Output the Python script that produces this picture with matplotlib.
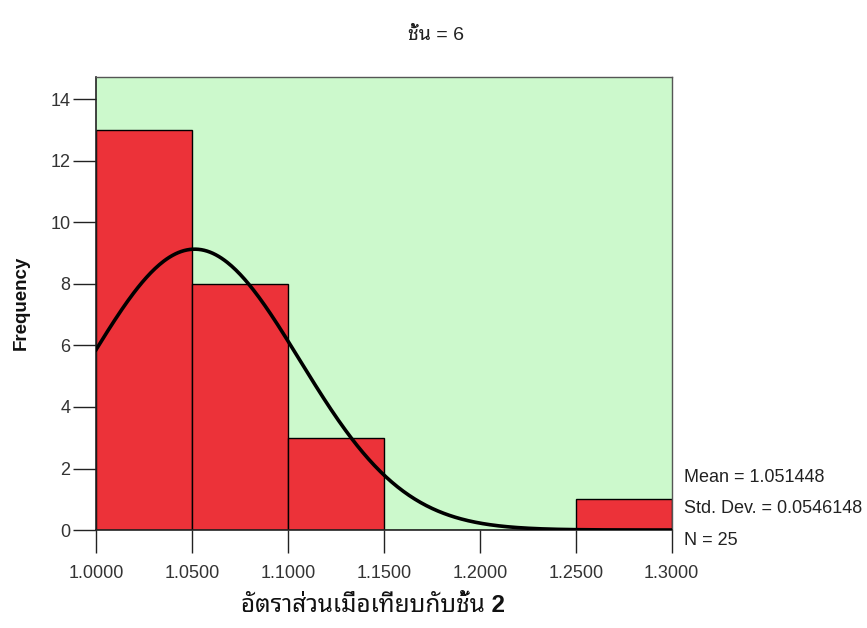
import numpy as np
import matplotlib
matplotlib.use("Agg")
import matplotlib.pyplot as plt

plt.rcParams['font.family'] = ['Liberation Sans', 'Noto Sans Thai Looped', 'DejaVu Sans']

# histogram bins (left edges) and counts
bin_left = [1.00, 1.05, 1.10, 1.15, 1.20, 1.25]
counts = [13, 8, 3, 0, 0, 1]
bin_width = 0.05

mean = 1.051448
std = 0.0546148
n = 25

fig = plt.figure(figsize=(8.67, 6.28), dpi=100)
ax = fig.add_axes([0.1107, 0.156, 0.664, 0.721])
ax.set_facecolor('#ccf9cc')

ax.bar(bin_left, counts, width=bin_width, align='edge', color='#ec3239',
       edgecolor='black', linewidth=1.0, zorder=2)

# fitted normal curve
xs = np.linspace(1.0, 1.3, 400)
ys = n * bin_width / (std * np.sqrt(2 * np.pi)) * np.exp(-0.5 * ((xs - mean) / std) ** 2)
ax.plot(xs, ys, color='black', lw=2.6, zorder=3)

ax.set_xlim(1.0, 1.3)
ax.set_ylim(0, 14.72)
ax.set_xticks([1.0, 1.05, 1.10, 1.15, 1.20, 1.25, 1.30])
ax.set_xticklabels(['1.0000', '1.0500', '1.1000', '1.1500', '1.2000', '1.2500', '1.3000'])
ax.set_yticks(range(0, 15, 2))
ax.tick_params(axis='both', direction='out', length=16.5, width=1.0, color='#222222',
               labelsize=13, labelcolor='#333333')
ax.tick_params(axis='x', pad=9)
ax.tick_params(axis='y', pad=2)

for s in ['top', 'right']:
    ax.spines[s].set_color('#555555')
    ax.spines[s].set_linewidth(1.0)
for s in ['left', 'bottom']:
    ax.spines[s].set_color('#222222')
    ax.spines[s].set_linewidth(1.2)

fig.text(21 / 867, 1 - 303 / 628, 'Frequency', rotation=90, ha='center', va='center',
         fontsize=13.5, fontweight='bold', color='#111111')
fig.text(0.430, 1 - 605 / 628, 'อัตราส่วนเมื่อเทียบกับชั้น 2', ha='center', va='center',
         fontsize=17.5, fontweight='bold', color='#111111')
fig.text(0.503, 1 - 35 / 628, 'ชั้น = 6', ha='center', va='center', fontsize=14, color='#222222')

stats = ['Mean = 1.051448', 'Std. Dev. = 0.0546148', 'N = 25']
for i, t in enumerate(stats):
    fig.text(0.789, 0.239 - i * 0.0495, t, ha='left', va='center', fontsize=13, color='#222222')

fig.savefig('out.png', dpi=100)
